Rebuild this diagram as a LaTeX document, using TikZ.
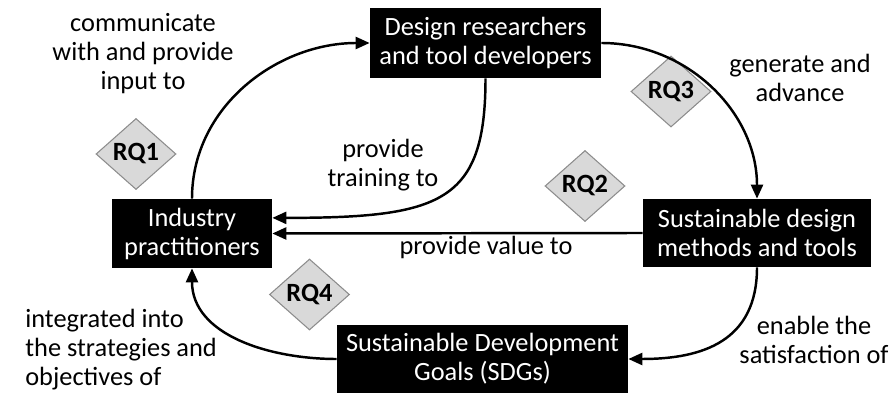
\documentclass[tikz,border=0pt]{standalone}
\usepackage{fontspec}
\setmainfont{Carlito}
\usetikzlibrary{positioning,arrows.meta,shapes.geometric}
\definecolor{rqfill}{RGB}{217,217,217}
\definecolor{rqline}{RGB}{140,140,140}

\begin{document}
\begin{tikzpicture}[
  font=\fontsize{15}{16.5}\selectfont,
  box/.style={fill=black, text=white, align=center, inner sep=0pt},
  rq/.style={diamond, draw=rqline, fill=rqfill, line width=0.6pt, inner sep=0pt,
    minimum width=1.6cm, minimum height=1.42cm, font=\fontsize{15}{16.5}\selectfont\bfseries},
  lbl/.style={align=center, inner sep=0pt},
  flow/.style={-{Triangle[length=2.8mm,width=2.4mm]}, line width=1.4pt}
]
\useasboundingbox (0,0) rectangle (17.9,7.88);
% boxes
\node[box, minimum width=4.62cm, minimum height=1.40cm] (design) at (9.71,7.02) {Design researchers\\and tool developers};
\node[box, minimum width=3.20cm, minimum height=1.38cm] (industry) at (3.84,3.21) {Industry\\practitioners};
\node[box, minimum width=4.56cm, minimum height=1.36cm] (methods) at (15.14,3.22) {Sustainable design\\methods and tools};
\node[box, minimum width=5.82cm, minimum height=1.36cm] (sdg) at (9.65,0.70) {Sustainable Development\\Goals (SDGs)};
% research questions
\node[rq] (RQ1) at (2.72,4.80) {RQ1};
\node[rq] (RQ2) at (11.70,4.16) {RQ2};
\node[rq] (RQ3) at (13.42,6.05) {RQ3};
\node[rq] (RQ4) at (6.19,1.99) {RQ4};
% labels
\node[lbl] (communicate) at (2.86,6.80) {communicate\\with and provide\\input to};
\node[lbl] (training) at (7.66,4.58) {provide\\training to};
\node[lbl] (generate) at (16.00,6.32) {generate and\\advance};
\node[lbl] (value) at (9.72,2.94) {provide value to};
\node[lbl] (enable) at (16.28,1.08) {enable the\\satisfaction of};
\node[lbl, align=left, anchor=west] (integrated) at (0.50,0.88) {integrated into\\the strategies and\\objectives of};
% connectors
\draw[flow] (industry.north) to[out=90,in=180] (design.west);
\draw[flow] (design.south) to[out=-90,in=0,out looseness=1.25,in looseness=1.7] (industry.11);
\draw[flow] (design.east) to[out=0,in=90] (methods.north);
\draw[flow] (methods.west) to (industry.east);
\draw[flow] (methods.south) to[out=-90,in=0,looseness=1.2] (sdg.east);
\draw[flow] (sdg.west) to[out=180,in=-90] (industry.south);
\end{tikzpicture}
\end{document}
